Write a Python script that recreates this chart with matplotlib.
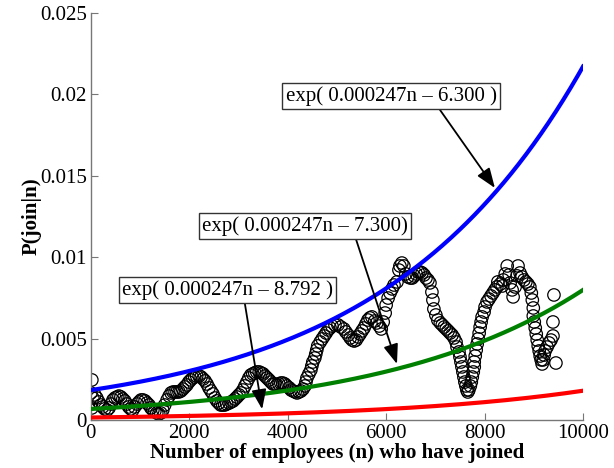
import numpy as np
import matplotlib
matplotlib.use('Agg')
import matplotlib.pyplot as plt

# observed join probability vs. number of employees already joined
n_joined = [
    20, 0, 20, 40, 80, 120, 160, 200, 240, 280, 330, 370, 410, 450, 490, 530, 570, 610, 650, 690,
    730, 770, 810, 850, 890, 940, 980, 1020, 1060, 1100, 1140, 1180, 1220, 1260, 1300, 1340, 1380, 1420, 1460, 1500,
    1550, 1590, 1630, 1670, 1710, 1750, 1790, 1830, 1870, 1910, 1950, 1990, 2030, 2070, 2110, 2150, 2200, 2240, 2280, 2320,
    2360, 2400, 2440, 2480, 2520, 2560, 2600, 2640, 2680, 2720, 2760, 2810, 2850, 2890, 2930, 2970, 3010, 3050, 3090, 3130,
    3170, 3210, 3250, 3290, 3330, 3370, 3420, 3460, 3500, 3540, 3580, 3620, 3660, 3700, 3740, 3780, 3820, 3860, 3900, 3940,
    3980, 4030, 4070, 4110, 4150, 4190, 4230, 4270, 4310, 4350, 4370, 4390, 4430, 4470, 4490, 4510, 4550, 4570, 4590, 4610,
    4660, 4700, 4740, 4780, 4820, 4860, 4900, 4960, 5020, 5080, 5140, 5180, 5230, 5270, 5310, 5350, 5390, 5430, 5470, 5510,
    5550, 5590, 5630, 5670, 5710, 5770, 5810, 5860, 5900, 5940, 5980, 6000, 6040, 6080, 6120, 6160, 6220, 6260, 6280, 6320,
    6360, 6400, 6440, 6490, 6530, 6570, 6610, 6650, 6690, 6730, 6770, 6810, 6850, 6890, 6930, 6950, 6970, 7010, 7050, 7100,
    7140, 7180, 7220, 7260, 7300, 7340, 7380, 7420, 7440, 7480, 7500, 7520, 7540, 7560, 7580, 7600, 7620, 7640, 7660, 7680,
    7710, 7730, 7750, 7770, 7790, 7790, 7810, 7830, 7850, 7870, 7890, 7910, 7930, 7950, 7990, 8010, 8050, 8090, 8130, 8170,
    8210, 8250, 8270, 8320, 8360, 8380, 8420, 8460, 8500, 8520, 8560, 8580, 8620, 8660, 8680, 8720, 8760, 8800, 8840, 8880,
    8920, 8950, 8970, 8990, 8990, 9010, 9030, 9050, 9070, 9090, 9110, 9130, 9150, 9170, 9190, 9210, 9230, 9270, 9310, 9350,
    9390, 9390, 9410, 9450,
]
p_join = [
    0.00246, 0.00166, 0.00074, 0.00135, 0.00154, 0.00135, 0.00111, 0.00092, 0.00080, 0.00068,
    0.00061, 0.00074, 0.00098, 0.00123, 0.00135, 0.00141, 0.00147, 0.00141, 0.00129, 0.00117,
    0.00098, 0.00080, 0.00068, 0.00061, 0.00080, 0.00098, 0.00111, 0.00123, 0.00123, 0.00117,
    0.00104, 0.00092, 0.00074, 0.00061, 0.00055, 0.00043, 0.00037, 0.00043, 0.00061, 0.00092,
    0.00123, 0.00147, 0.00166, 0.00172, 0.00172, 0.00172, 0.00172, 0.00178, 0.00190, 0.00203,
    0.00215, 0.00233, 0.00246, 0.00258, 0.00264, 0.00270, 0.00270, 0.00264, 0.00252, 0.00240,
    0.00221, 0.00197, 0.00178, 0.00160, 0.00135, 0.00117, 0.00104, 0.00092, 0.00092, 0.00092,
    0.00098, 0.00104, 0.00111, 0.00117, 0.00129, 0.00141, 0.00154, 0.00166, 0.00184, 0.00209,
    0.00233, 0.00258, 0.00276, 0.00283, 0.00289, 0.00295, 0.00295, 0.00289, 0.00283, 0.00270,
    0.00258, 0.00246, 0.00233, 0.00221, 0.00221, 0.00215, 0.00221, 0.00227, 0.00227, 0.00221,
    0.00209, 0.00197, 0.00184, 0.00178, 0.00172, 0.00166, 0.00172, 0.00178, 0.00190, 0.00209,
    0.00233, 0.00258, 0.00283, 0.00307, 0.00332, 0.00356, 0.00381, 0.00405, 0.00430, 0.00455,
    0.00479, 0.00498, 0.00516, 0.00534, 0.00553, 0.00565, 0.00577, 0.00584, 0.00584, 0.00571,
    0.00559, 0.00541, 0.00522, 0.00504, 0.00491, 0.00485, 0.00491, 0.00510, 0.00528, 0.00547,
    0.00565, 0.00590, 0.00614, 0.00627, 0.00633, 0.00608, 0.00596, 0.00577, 0.00559, 0.00602,
    0.00657, 0.00706, 0.00749, 0.00780, 0.00805, 0.00829, 0.00848, 0.00921, 0.00946, 0.00964,
    0.00946, 0.00897, 0.00879, 0.00872, 0.00872, 0.00885, 0.00897, 0.00909, 0.00909, 0.00903,
    0.00891, 0.00872, 0.00860, 0.00842, 0.00786, 0.00737, 0.00682, 0.00645, 0.00614, 0.00596,
    0.00584, 0.00571, 0.00559, 0.00547, 0.00534, 0.00522, 0.00504, 0.00479, 0.00448, 0.00418,
    0.00387, 0.00356, 0.00326, 0.00295, 0.00264, 0.00233, 0.00209, 0.00184, 0.00172, 0.00184,
    0.00209, 0.00233, 0.00264, 0.00295, 0.00326, 0.00356, 0.00393, 0.00430, 0.00467, 0.00498,
    0.00534, 0.00571, 0.00602, 0.00633, 0.00663, 0.00694, 0.00725, 0.00743, 0.00762, 0.00780,
    0.00799, 0.00817, 0.00848, 0.00835, 0.00823, 0.00860, 0.00897, 0.00946, 0.00891, 0.00842,
    0.00799, 0.00756, 0.00817, 0.00885, 0.00946, 0.00903, 0.00879, 0.00860, 0.00848, 0.00835,
    0.00817, 0.00780, 0.00737, 0.00688, 0.00639, 0.00602, 0.00565, 0.00528, 0.00491, 0.00455,
    0.00424, 0.00393, 0.00369, 0.00344, 0.00369, 0.00399, 0.00424, 0.00448, 0.00473, 0.00491,
    0.00516, 0.00602, 0.00768, 0.00350,
]

# fitted curves exp(rate*n + offset)
rate = 0.000247
offsets = [-6.300, -7.300, -8.792]
fit_colors = ['#0000ff', '#008000', '#ff0000']
fit_labels = ['exp( 0.000247n \u2013 6.300 )',
              'exp( 0.000247n \u2013 7.300)',
              'exp( 0.000247n \u2013 8.792 )']

# label box centre, arrow target (on the curve) and where the arrow leaves the box
label_pos = [(6100, 0.01987), (4360, 0.01192), (2775, 0.00796)]
arrow_n = [8210, 6220, 3480]
arrow_rel = [0.72, 0.74, 0.58]

plt.rcParams['font.family'] = ['Liberation Serif', 'DejaVu Serif']

fig = plt.figure(figsize=(6.14, 4.68), dpi=100)
ax = fig.add_axes([0.148, 0.1026, 0.8015, 0.8697])

ax.scatter(n_joined, p_join, s=80, facecolors='none', edgecolors='black',
           linewidths=0.9, zorder=2)

n = np.linspace(0, 10000, 400)
for off, col in zip(offsets, fit_colors):
    ax.plot(n, np.exp(rate * n + off), color=col, lw=3.0, zorder=3)

for txt, pos, tn, rel, off in zip(fit_labels, label_pos, arrow_n, arrow_rel, offsets):
    ty = np.exp(rate * tn + off)
    ax.annotate(txt, xy=(tn, ty + 0.0003), xytext=pos, ha='center', va='center',
                fontsize=15, zorder=5,
                bbox=dict(boxstyle='square,pad=0.15', fc='white', ec='#333333', lw=1.0),
                arrowprops=dict(arrowstyle='-|>,head_length=0.8,head_width=0.3',
                                color='black', lw=1.3, relpos=(rel, 0.0),
                                shrinkA=0, shrinkB=0))

ax.set_xlim(0, 10000)
ax.set_ylim(0, 0.025)
ax.set_xticks([0, 2000, 4000, 6000, 8000, 10000])
ax.set_yticks([0, 0.005, 0.01, 0.015, 0.02, 0.025])
ax.set_yticklabels(['0', '0.005', '0.01', '0.015', '0.02', '0.025'])

for side in ['top', 'right']:
    ax.spines[side].set_visible(False)
for side in ['left', 'bottom']:
    ax.spines[side].set_color('#777777')
    ax.spines[side].set_linewidth(1.0)
ax.tick_params(direction='in', length=5, color='#777777', labelsize=15, pad=3)

ax.set_xlabel('Number of employees (n) who have joined', fontsize=15,
              fontweight='bold', labelpad=0)
ax.set_ylabel('P(join|n)', fontsize=15, fontweight='bold', labelpad=-1)

fig.savefig('out.png', dpi=100)
